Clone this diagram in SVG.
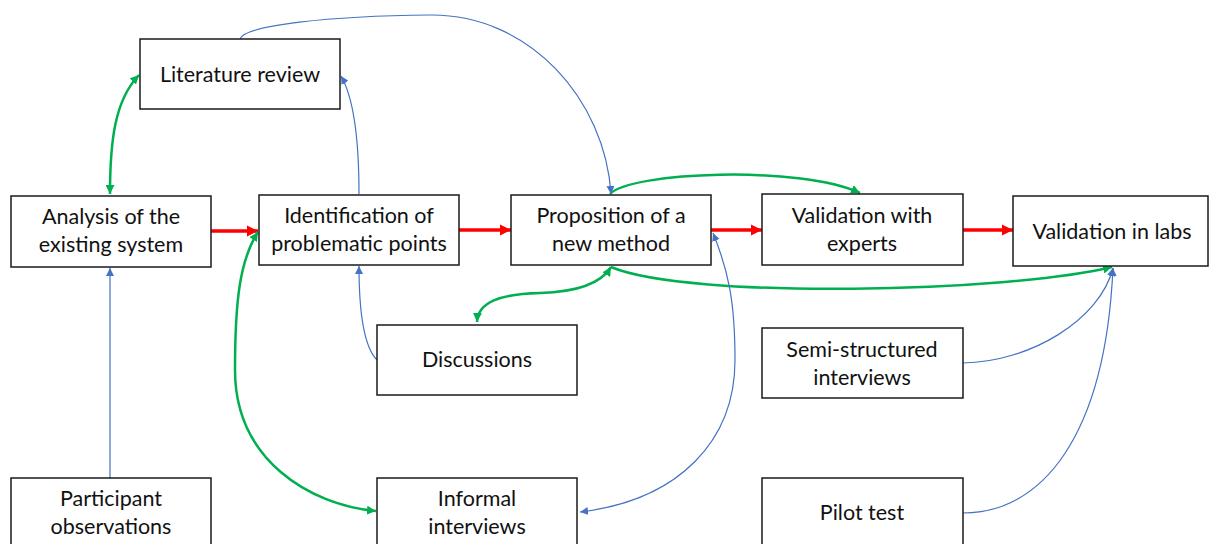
<svg xmlns="http://www.w3.org/2000/svg" width="1209" height="544" viewBox="0 0 1209 544">
  <style>
    .box { fill: #ffffff; stroke: #1a1a1a; stroke-width: 1.5; }
    .lbl { font-family: Lato, "Liberation Sans", sans-serif; font-size: 21.5px; fill: #111111; text-anchor: middle; }
    .red { fill: none; stroke: #ff0000; stroke-width: 3.5; }
    .green { fill: none; stroke: #00b050; stroke-width: 2.5; }
    .blue { fill: none; stroke: #4472c4; stroke-width: 1.2; }
  </style>
  <defs>
    <marker id="ar" markerUnits="userSpaceOnUse" viewBox="0 0 10 10" refX="10" refY="5" markerWidth="11" markerHeight="12" orient="auto-start-reverse">
      <path d="M0,0 L10,5 L0,10 z" fill="#ff0000"/>
    </marker>
    <marker id="ag" markerUnits="userSpaceOnUse" viewBox="0 0 10 10" refX="10" refY="5" markerWidth="9" markerHeight="9" orient="auto-start-reverse">
      <path d="M0,0 L10,5 L0,10 z" fill="#00b050"/>
    </marker>
    <marker id="ab" markerUnits="userSpaceOnUse" viewBox="0 0 10 10" refX="10" refY="5" markerWidth="8" markerHeight="8" orient="auto-start-reverse">
      <path d="M0,0 L10,5 L0,10 z" fill="#4472c4"/>
    </marker>
  </defs>

  <!-- connectors -->
  <g id="connectors">
    <!-- main sequence -->
    <path class="red" d="M211,231 L258,231" marker-end="url(#ar)"/>
    <path class="red" d="M459,230 L511,230" marker-end="url(#ar)"/>
    <path class="red" d="M711,230 L762,230" marker-end="url(#ar)"/>
    <path class="red" d="M963,230 L1013,230" marker-end="url(#ar)"/>

    <!-- feedback links -->
    <path class="green" d="M110,194 C110,140 115,100 139,75" marker-start="url(#ag)" marker-end="url(#ag)"/>
    <path class="green" d="M258,232 C240,260 235,300 235,370 C235,460 310,505 376,511" marker-start="url(#ag)" marker-end="url(#ag)"/>
    <path class="green" d="M610,194 C630,172 800,165 860,193" marker-end="url(#ag)"/>
    <path class="green" d="M611,267 C600,285 575,292 540,293 C500,294 478,302 477,322" marker-start="url(#ag)" marker-end="url(#ag)"/>
    <path class="green" d="M611,267 C690,300 1010,292 1112,267" marker-end="url(#ag)"/>

    <!-- inputs -->
    <path class="blue" d="M240,39 C245,25 330,16 430,15 C530,14 605,100 611,194" marker-end="url(#ab)"/>
    <path class="blue" d="M359,194 C359,130 352,95 341,76" marker-end="url(#ab)"/>
    <path class="blue" d="M110,478 L110,268" marker-end="url(#ab)"/>
    <path class="blue" d="M377,360 C362,345 359,300 359,266" marker-end="url(#ab)"/>
    <path class="blue" d="M713,233 C728,270 735,300 735,360 C735,440 680,500 580,512" marker-start="url(#ab)" marker-end="url(#ab)"/>
    <path class="blue" d="M963,363 C1030,362 1100,320 1113,268" marker-end="url(#ab)"/>
    <path class="blue" d="M963,513 C1040,513 1105,440 1113,268" marker-end="url(#ab)"/>
  </g>

  <!-- nodes -->
  <g id="literature-review">
    <rect class="box" x="140" y="39" width="200" height="70"/>
    <text class="lbl" x="240" y="82">Literature review</text>
  </g>
  <g id="analysis">
    <rect class="box" x="11" y="196" width="200" height="71"/>
    <text class="lbl" x="111" y="224">Analysis of the</text>
    <text class="lbl" x="111" y="252">existing system</text>
  </g>
  <g id="identification">
    <rect class="box" x="259" y="195" width="200" height="70"/>
    <text class="lbl" x="359" y="223">Identification of</text>
    <text class="lbl" x="359" y="251">problematic points</text>
  </g>
  <g id="proposition">
    <rect class="box" x="511" y="195" width="200" height="70"/>
    <text class="lbl" x="611" y="223">Proposition of a</text>
    <text class="lbl" x="611" y="251">new method</text>
  </g>
  <g id="validation-experts">
    <rect class="box" x="762" y="194" width="201" height="71"/>
    <text class="lbl" x="862" y="223">Validation with</text>
    <text class="lbl" x="862" y="251">experts</text>
  </g>
  <g id="validation-labs">
    <rect class="box" x="1013" y="196" width="195" height="70"/>
    <text class="lbl" x="1112" y="239">Validation in labs</text>
  </g>
  <g id="discussions">
    <rect class="box" x="377" y="325" width="200" height="70"/>
    <text class="lbl" x="477" y="367">Discussions</text>
  </g>
  <g id="semi-structured">
    <rect class="box" x="762" y="328" width="201" height="70"/>
    <text class="lbl" x="862" y="357">Semi-structured</text>
    <text class="lbl" x="862" y="385">interviews</text>
  </g>
  <g id="participant">
    <rect class="box" x="11" y="478" width="200" height="80"/>
    <text class="lbl" x="111" y="506">Participant</text>
    <text class="lbl" x="111" y="534">observations</text>
  </g>
  <g id="informal">
    <rect class="box" x="377" y="478" width="200" height="80"/>
    <text class="lbl" x="477" y="506">Informal</text>
    <text class="lbl" x="477" y="534">interviews</text>
  </g>
  <g id="pilot">
    <rect class="box" x="762" y="478" width="201" height="80"/>
    <text class="lbl" x="862" y="520">Pilot test</text>
  </g>
</svg>
